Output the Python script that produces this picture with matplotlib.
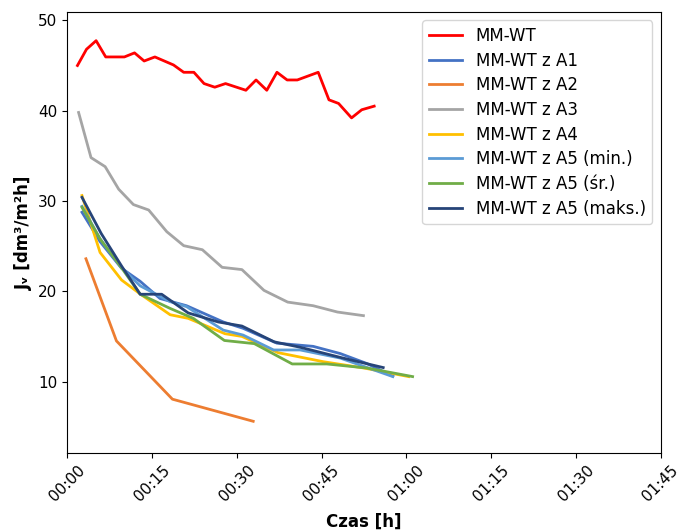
import matplotlib
matplotlib.use('Agg')
import matplotlib.pyplot as plt
import matplotlib.ticker as ticker

# czas pomiaru [min] i strumień permeatu Jv [dm3/m2h]
t_wt = [1.8, 3.4, 5.1, 6.8, 10.1, 11.9, 13.6, 15.5, 18.8, 20.6, 22.4, 24.2, 26.1,
        28.0, 31.6, 33.4, 35.3, 37.1, 38.9, 40.7, 44.4, 46.3, 48.0, 50.3, 52.1, 54.3]
jv_wt = [45.0, 46.8, 47.75, 45.95, 45.95, 46.4, 45.5, 45.95, 45.06, 44.25, 44.25, 43.0, 42.6,
         43.0, 42.26, 43.4, 42.26, 44.25, 43.4, 43.4, 44.25, 41.2, 40.8, 39.2, 40.1, 40.5]

t_a1 = [2.6, 5.8, 9.6, 12.9, 16.4, 21.1, 27.6, 31.1, 37.1, 43.5, 48.3, 53.0, 57.6]
jv_a1 = [28.75, 25.5, 22.55, 21.1, 19.2, 18.4, 16.6, 15.9, 14.25, 13.9, 13.1, 12.0, 10.6]

t_a2 = [3.3, 8.7, 18.6, 32.9]
jv_a2 = [23.6, 14.5, 8.05, 5.6]

t_a3 = [2.0, 4.2, 6.7, 9.1, 11.7, 14.4, 17.6, 20.6, 23.9, 27.4, 30.9, 34.8, 39.0, 43.5, 47.8, 52.4]
jv_a3 = [39.8, 34.8, 33.8, 31.3, 29.6, 29.0, 26.6, 25.05, 24.6, 22.65, 22.4, 20.1, 18.8, 18.4, 17.7, 17.3]

t_a4 = [2.6, 5.8, 9.6, 12.9, 18.2, 21.4, 27.9, 30.9, 37.3, 45.3, 52.5, 60.4]
jv_a4 = [30.6, 24.3, 21.25, 19.7, 17.4, 17.0, 15.3, 15.0, 13.2, 12.2, 11.5, 10.55]

t_a5min = [2.6, 5.8, 9.6, 12.9, 18.2, 21.1, 27.6, 31.1, 36.5, 41.2, 48.3, 57.6]
jv_a5min = [29.4, 25.8, 22.6, 20.6, 18.85, 18.3, 15.7, 15.15, 13.5, 13.5, 12.6, 10.55]

t_a5sr = [2.6, 5.8, 9.6, 12.9, 18.2, 22.3, 27.8, 33.1, 39.8, 45.9, 53.0, 61.1]
jv_a5sr = [29.3, 25.8, 22.6, 19.67, 18.1, 17.0, 14.55, 14.2, 11.95, 11.95, 11.5, 10.55]

t_a5max = [2.6, 6.0, 9.6, 12.9, 16.7, 21.4, 26.7, 30.9, 36.6, 41.2, 48.8, 55.9]
jv_a5max = [30.4, 26.4, 22.8, 19.67, 19.67, 17.6, 16.6, 16.15, 14.4, 13.8, 12.6, 11.55]

series = [
    (t_wt, jv_wt, 'MM-WT', '#FF0000'),
    (t_a1, jv_a1, 'MM-WT z A1', '#4472C4'),
    (t_a2, jv_a2, 'MM-WT z A2', '#ED7D31'),
    (t_a3, jv_a3, 'MM-WT z A3', '#A5A5A5'),
    (t_a4, jv_a4, 'MM-WT z A4', '#FFC000'),
    (t_a5min, jv_a5min, 'MM-WT z A5 (min.)', '#5B9BD5'),
    (t_a5sr, jv_a5sr, 'MM-WT z A5 (śr.)', '#70AD47'),
    (t_a5max, jv_a5max, 'MM-WT z A5 (maks.)', '#264478'),
]


def hhmm(x, pos):
    m = int(round(x))
    return '%02d:%02d' % (m // 60, m % 60)


fig = plt.figure(figsize=(6.81, 5.32), dpi=100)
ax = fig.add_axes([0.0988, 0.148, 0.8714, 0.8295])
for t, jv, name, col in series:
    ax.plot(t, jv, color=col, lw=2, label=name)

ax.set_xlim(0, 105)
ax.set_ylim(2.06, 50.93)
ax.xaxis.set_major_locator(ticker.MultipleLocator(15))
ax.xaxis.set_major_formatter(ticker.FuncFormatter(hhmm))
ax.yaxis.set_major_locator(ticker.MultipleLocator(10))
ax.tick_params(labelsize=11)
plt.setp(ax.get_xticklabels(), rotation=45)
ax.set_xlabel('Czas [h]', fontsize=12, fontweight='bold', labelpad=6)
ax.set_ylabel('Jᵥ [dm³/m²h]', fontsize=12, fontweight='bold')
ax.legend(loc='upper right', fontsize=12, labelspacing=0.4)

plt.savefig('out.png', dpi=100)
